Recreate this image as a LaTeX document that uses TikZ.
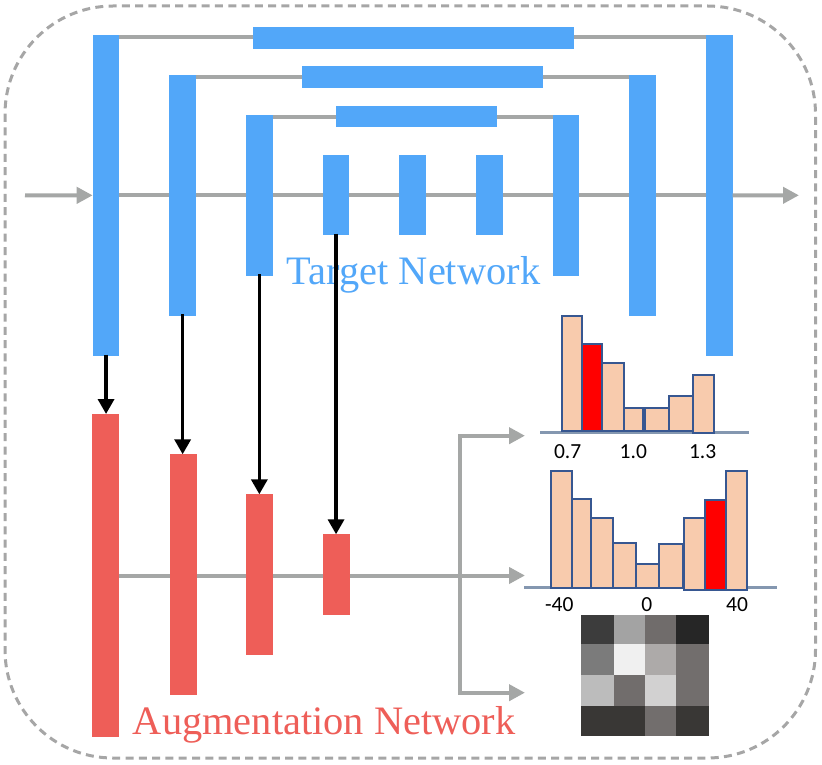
\documentclass[tikz,border=0pt]{standalone}
\usepackage{fontspec}
\setmainfont{Liberation Serif}
\newfontfamily\labfont{Carlito}
\usetikzlibrary{arrows.meta,backgrounds}
\definecolor{netblue}{RGB}{82,167,249}
\definecolor{augred}{RGB}{238,94,88}
\definecolor{lgray}{RGB}{165,167,166}
\definecolor{bordergray}{RGB}{166,166,166}
\definecolor{histblue}{RGB}{55,87,145}
\definecolor{peach}{RGB}{248,203,173}
\definecolor{histbase}{RGB}{132,151,176}
\definecolor{hred}{RGB}{255,0,0}
\begin{document}
\begin{tikzpicture}[x=1pt,y=-1pt,
  bluebar/.style={fill=netblue, draw=none, inner sep=0pt, outer sep=0pt, anchor=north west},
  redbar/.style={fill=augred, draw=none, inner sep=0pt, outer sep=0pt, anchor=north west, minimum width=27pt},
  gline/.style={draw=lgray, line width=4pt},
  garrow/.style={gline, line join=miter, -{Triangle[length=16pt,width=16pt]}},
  karrow/.style={draw=black, line width=3.5pt, -{Triangle[length=15pt,width=16pt]}},
  histbar/.style={fill=peach, draw=histblue, line width=1.8pt},
  hbase/.style={draw=histbase, line width=3pt},
  lab/.style={inner sep=0pt, font=\labfont\fontsize{21.5}{25}\selectfont},
  title/.style={anchor=base west, inner sep=0pt, font=\fontsize{40.4}{48}\selectfont}
]
\useasboundingbox (0,0) rectangle (822,765);
% dashed frame
\draw[draw=bordergray, line width=3pt, dash pattern=on 8pt off 5.3pt, rounded corners=108pt]
  (5,6) rectangle (815.5,758);

% target network vertical bars
\node[bluebar, minimum width=26.7pt, minimum height=321.3pt] (b1) at (92.7,34.7) {};
\node[bluebar, minimum width=26.7pt, minimum height=240.7pt] (b2) at (169.3,75) {};
\node[bluebar, minimum width=26.7pt, minimum height=160.7pt] (b3) at (246,115) {};
\node[bluebar, minimum width=26.7pt, minimum height=79.7pt] (b4) at (322.7,155.3) {};
\node[bluebar, minimum width=26.7pt, minimum height=79.7pt] (b5) at (399.3,155.3) {};
\node[bluebar, minimum width=26.7pt, minimum height=79.7pt] (b6) at (476,155.3) {};
\node[bluebar, minimum width=26.7pt, minimum height=160.7pt] (b7) at (552.7,115) {};
\node[bluebar, minimum width=26.7pt, minimum height=240.7pt] (b8) at (629.3,75) {};
\node[bluebar, minimum width=26.7pt, minimum height=321.3pt] (b9) at (706,34.7) {};
% horizontal bars
\node[bluebar, minimum width=321pt, minimum height=21.4pt] (h1) at (253.3,27.3) {};
\node[bluebar, minimum width=241pt, minimum height=21.4pt] (h2) at (301.7,66.3) {};
\node[bluebar, minimum width=160.7pt, minimum height=21pt] (h3) at (336,106.3) {};

% augmentation network bars
\node[redbar, minimum height=323pt] (r1) at (92.3,414) {};
\node[redbar, minimum height=240.7pt] (r2) at (170.3,454.3) {};
\node[redbar, minimum height=160.7pt] (r3) at (245.7,494.3) {};
\node[redbar, minimum height=80.7pt] (r4) at (322.7,534.3) {};

% titles
\node[title, text=netblue] (tgt) at (286.7,284.3) {Target Network};
\node[title, text=augred] (aug) at (132.7,734.3) {Augmentation Network};

% coordinates
\coordinate (in) at (25,195.3);
\coordinate (out) at (799,195.3);
\coordinate (j) at (460,575.5);
\coordinate (t1) at (525,435.7);
\coordinate (t2) at (525,575.5);
\coordinate (t3) at (525,692.7);

\begin{pgfonlayer}{background}
  \draw[gline] (b1.center) -- (b9.center);
  \draw[gline] (b1.east |- 0,37) -- (b9.west |- 0,37);
  \draw[gline] (b2.east |- 0,77) -- (b8.west |- 0,77);
  \draw[gline] (b3.east |- 0,117) -- (b7.west |- 0,117);
  \draw[garrow] (r1.center) -- (t2);
\end{pgfonlayer}
\draw[garrow] (in) -- (b1.west);
\draw[garrow] (b9.east) -- (out);
\draw[garrow] (j) |- (t1);
\draw[garrow] (j) |- (t3);

% black arrows
\draw[karrow] ([yshift=1.5pt]b1.south) -- (b1.south |- r1.north);
\draw[karrow] ([yshift=1.5pt]b2.south) -- (b2.south |- r2.north);
\draw[karrow] ([yshift=1.5pt]b3.south) -- (b3.south |- r3.north);
\draw[karrow] ([yshift=1.5pt]b4.south) -- (b4.south |- r4.north);

% histogram 1
\draw[hbase] (540,432.3) -- (749.3,432.3);
\draw[histbar] (562.3,431) rectangle (582,316.3);
\draw[histbar, fill=hred] (582,431) rectangle (602.3,344.3);
\draw[histbar] (602.3,431) rectangle (623.7,362.7);
\draw[histbar] (623.7,431) rectangle (643.3,407.7);
\draw[histbar] (644.7,431) rectangle (668.7,407.7);
\draw[histbar] (668.7,431) rectangle (692.7,395.7);
\draw[histbar] (692.7,433) rectangle (714,374.7);
\node[lab] (l1a) at (567.7,451.5) {0.7};
\node[lab] (l1b) at (633.3,451.5) {1.0};
\node[lab] (l1c) at (702.7,451.5) {1.3};

% histogram 2
\draw[hbase] (524,587.7) -- (777,587.7);
\draw[histbar] (550.7,588) rectangle (571.7,471.3);
\draw[histbar] (571.7,588) rectangle (591.3,498.7);
\draw[histbar] (591.3,588) rectangle (612.7,518.3);
\draw[histbar] (612.7,588) rectangle (635.7,542.7);
\draw[histbar] (635.7,588) rectangle (659.3,564.3);
\draw[histbar] (659.3,588) rectangle (682.7,544.3);
\draw[histbar] (684,590) rectangle (705,518.3);
\draw[histbar, fill=hred] (705,590) rectangle (726.3,500);
\draw[histbar] (726.3,590) rectangle (746.7,471.3);
\node[lab] (l2a) at (559.3,604.5) {-40};
\node[lab] (l2b) at (646.7,604.5) {0};
\node[lab] (l2c) at (737,604.5) {40};

% grey-level grid
\fill[fill={rgb,255:red,60;green,60;blue,60}] (581,615) rectangle (614,644);
\fill[fill={rgb,255:red,163;green,163;blue,163}] (614,615) rectangle (645,644);
\fill[fill={rgb,255:red,112;green,108;blue,107}] (645,615) rectangle (676,644);
\fill[fill={rgb,255:red,38;green,38;blue,38}] (676,615) rectangle (709.3,644);
\fill[fill={rgb,255:red,123;green,123;blue,123}] (581,644) rectangle (614,675);
\fill[fill={rgb,255:red,240;green,240;blue,240}] (614,644) rectangle (645,675);
\fill[fill={rgb,255:red,173;green,170;blue,169}] (645,644) rectangle (676,675);
\fill[fill={rgb,255:red,114;green,110;blue,109}] (676,644) rectangle (709.3,675);
\fill[fill={rgb,255:red,188;green,188;blue,188}] (581,675) rectangle (614,705.7);
\fill[fill={rgb,255:red,113;green,109;blue,108}] (614,675) rectangle (645,705.7);
\fill[fill={rgb,255:red,210;green,209;blue,209}] (645,675) rectangle (676,705.7);
\fill[fill={rgb,255:red,114;green,110;blue,109}] (676,675) rectangle (709.3,705.7);
\fill[fill={rgb,255:red,57;green,55;blue,53}] (581,705.7) rectangle (645,736);
\fill[fill={rgb,255:red,114;green,110;blue,109}] (645,705.7) rectangle (676,736);
\fill[fill={rgb,255:red,57;green,55;blue,53}] (676,705.7) rectangle (709.3,736);
\end{tikzpicture}
\end{document}
